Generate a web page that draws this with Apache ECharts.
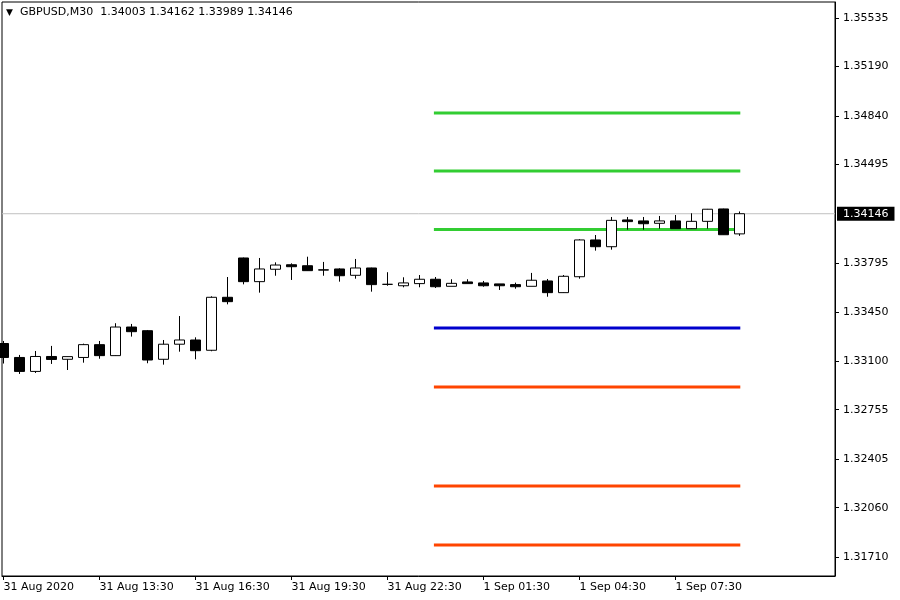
<!DOCTYPE html>
<html>
<head>
<meta charset="utf-8">
<script src="https://cdn.jsdelivr.net/npm/echarts@6/dist/echarts.min.js"></script>
<style>
html,body{margin:0;padding:0;background:#fff;}
#chart{width:900px;height:600px;}
</style>
</head>
<body>
<div id="chart"></div>
<script>
const symbol = 'GBPUSD';
const timeframe = 'M30';

// OHLC of the 47 M30 bars (31 Aug 2020 10:30 .. 1 Sep 2020 09:30)
const open = [1.33225,1.33126,1.33027,1.33133,1.33113,1.33126,1.33217,1.33139,1.33342,1.33316,
  1.33113,1.33220,1.33250,1.33177,1.33553,1.33832,1.33664,1.33752,1.33784,1.33777,
  1.33748,1.33754,1.33709,1.33761,1.33645,1.33635,1.33650,1.33681,1.33631,1.33662,
  1.33655,1.33648,1.33643,1.33631,1.33669,1.33586,1.33699,1.33960,1.33912,1.34102,
  1.34095,1.34078,1.34095,1.34040,1.34092,1.34180,1.34003];
const high = [1.33243,1.33144,1.33172,1.33208,1.33133,1.33224,1.33243,1.33369,1.33364,1.33321,
  1.33250,1.33420,1.33269,1.33560,1.33697,1.33835,1.33832,1.33801,1.33794,1.33841,
  1.33804,1.33759,1.33825,1.33763,1.33731,1.33695,1.33711,1.33697,1.33681,1.33681,
  1.33669,1.33648,1.33657,1.33726,1.33683,1.33711,1.33965,1.33995,1.34123,1.34123,
  1.34123,1.34130,1.34137,1.34149,1.34180,1.34182,1.34162];
const low = [1.33083,1.33009,1.33016,1.33080,1.33037,1.33089,1.33117,1.33137,1.33274,1.33085,
  1.33075,1.33167,1.33113,1.33170,1.33503,1.33645,1.33586,1.33706,1.33676,1.33740,
  1.33706,1.33664,1.33685,1.33593,1.33635,1.33624,1.33624,1.33619,1.33631,1.33650,
  1.33628,1.33605,1.33614,1.33631,1.33557,1.33584,1.33685,1.33884,1.33891,1.34033,
  1.34033,1.34040,1.34038,1.34038,1.34040,1.33995,1.33989];
const close = [1.33126,1.33027,1.33133,1.33112,1.33132,1.33217,1.33139,1.33342,1.33309,1.33108,
  1.33220,1.33250,1.33174,1.33553,1.33522,1.33664,1.33754,1.33782,1.33770,1.33742,
  1.33746,1.33706,1.33761,1.33643,1.33645,1.33655,1.33681,1.33628,1.33652,1.33650,
  1.33635,1.33635,1.33628,1.33674,1.33586,1.33702,1.33960,1.33912,1.34099,1.34090,
  1.34075,1.34095,1.34040,1.34092,1.34178,1.33997,1.34146];

// time axis labels (bar index where each label sits)
const xTickBars = [0,6,12,18,24,30,36,42];
const xTickLabels = ['31 Aug 2020','31 Aug 13:30','31 Aug 16:30','31 Aug 19:30','31 Aug 22:30','1 Sep 01:30','1 Sep 04:30','1 Sep 07:30'];

// price axis labels
const yTickLabels = [1.35535,1.35190,1.34840,1.34495,1.33795,1.33450,1.33100,1.32755,1.32405,1.32060,1.31710];

// horizontal levels (price) and the bar range they cover
const levelPrices = [1.34861,1.34449,1.34034,1.33335,1.32917,1.32214,1.31795];
const levelStartBar = 26.9;
const levelEndBar = 46.05;

// current bid
const bid = 1.34146;

// visible ranges
const xMin = -0.09375, xMax = 51.96875;
const yMin = 1.315752, yMax = 1.356485;

// ---- styles ----
const levelColors = ['#32cd32','#32cd32','#32cd32','#0000cd','#ff4500','#ff4500','#ff4500'];
const FONT = 'DejaVu Sans';

const candleData = open.map((o,i)=>[i, o, close[i], low[i], high[i]]);
const last = open.length-1;
const header = symbol + ',' + timeframe + '  ' + [open[last],high[last],low[last],close[last]].map(v=>v.toFixed(5)).join(' ');

const levelSeries = levelPrices.map((p,i)=>({
  type:'line',
  z:2,
  silent:true,
  symbol:'none',
  data:[[levelStartBar,p],[levelEndBar,p]],
  lineStyle:{color:levelColors[i], width:3}
}));

const bidSeries = {
  type:'line',
  z:1,
  silent:true,
  symbol:'none',
  clip:false,
  data:[[xMin,bid],[xMax,bid]],
  lineStyle:{color:'#c0c0c0', width:1},
  endLabel:{show:true, distance:2, formatter: ()=>bid.toFixed(5),
    backgroundColor:'#000', color:'#fff', fontFamily:FONT, fontSize:11, padding:[2,6,1,6]}
};

const chart = echarts.init(document.getElementById('chart'), null, {renderer:'canvas'});
chart.setOption({
  animation:false,
  backgroundColor:'#fff',
  title:[{
    text:'▼',
    left:6, top:8, padding:0,
    textStyle:{fontFamily:FONT, fontSize:9, fontWeight:'normal', color:'#000'}
  },{
    text:header,
    left:20, top:7, padding:0,
    textStyle:{fontFamily:FONT, fontSize:11, fontWeight:'normal', color:'#000'}
  }],
  grid:{left:2, top:2, right:65, bottom:24, show:true, borderColor:'#000', borderWidth:1, backgroundColor:'#fff'},
  xAxis:{
    type:'value', min:xMin, max:xMax,
    axisLine:{show:true, onZero:false, lineStyle:{color:'#000'}},
    splitLine:{show:false},
    axisTick:{show:true, length:4, lineStyle:{color:'#000'}, customValues:xTickBars},
    axisLabel:{show:true, customValues:xTickBars, align:'left', margin:6,
      fontFamily:FONT, fontSize:11, color:'#000',
      formatter:(v)=>{const k=xTickBars.indexOf(Math.round(v)); return k>=0?xTickLabels[k]:'';}}
  },
  yAxis:{
    type:'value', position:'right', min:yMin, max:yMax, scale:true,
    axisLine:{show:true, onZero:false, lineStyle:{color:'#000'}},
    splitLine:{show:false},
    axisTick:{show:true, length:4, lineStyle:{color:'#000'}, customValues:yTickLabels},
    axisLabel:{show:true, customValues:yTickLabels, margin:8,
      fontFamily:FONT, fontSize:11, color:'#000', formatter:(v)=>v.toFixed(5)}
  },
  series: [bidSeries].concat(levelSeries).concat([{
    type:'candlestick',
    z:3,
    barWidth:10,
    clip:true,
    data:candleData,
    encode:{x:0, y:[1,2,3,4]},
    itemStyle:{color:'#fff', color0:'#000', borderColor:'#000', borderColor0:'#000', borderWidth:1},
    emphasis:{disabled:true}
  }])
});
</script>
</body>
</html>
